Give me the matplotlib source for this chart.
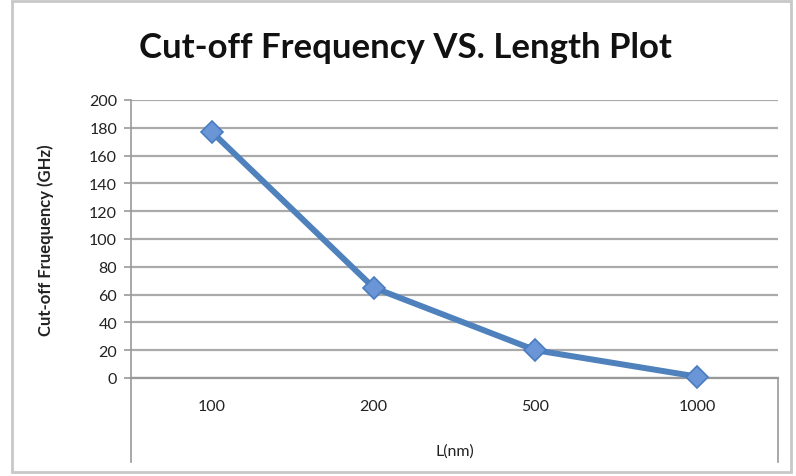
import matplotlib
matplotlib.use("Agg")
import matplotlib.pyplot as plt
from matplotlib.patches import Rectangle
from matplotlib.lines import Line2D

plt.rcParams["font.family"] = ["Lato", "DejaVu Sans"]

# cut-off frequency per device length
lengths = ["100", "200", "500", "1000"]
freq_ghz = [177, 65, 20, 1]
yticks = list(range(0, 201, 20))

W, H = 796, 477
fig = plt.figure(figsize=(W / 100, H / 100), dpi=100)

# light frame around the chart
fig.patches.append(Rectangle((12 / W, 4 / H), 779 / W, 471 / H, transform=fig.transFigure,
                             fill=False, edgecolor="#c8c8c8", lw=2))

ax = fig.add_axes([131 / W, 1 - 379 / H, (778 - 131) / W, (379 - 101) / H])
xs = list(range(len(lengths)))
ax.plot(xs, freq_ghz, color="#4F81BD", lw=4.3, marker="D", markersize=11,
        markerfacecolor="#6a96d8", markeredgecolor="#4a7cc0", markeredgewidth=1.2,
        zorder=3, clip_on=False)

ax.set_xlim(-0.5, len(lengths) - 0.5)
ax.set_ylim(0, 200)
ax.set_yticks(yticks)
ax.set_yticklabels([str(v) for v in yticks], fontsize=11.5, color="#222222")
ax.set_xticks(xs)
ax.set_xticklabels(lengths, fontsize=11.5, color="#222222")
ax.tick_params(axis="y", length=5, width=1.2, color="#999999", pad=5)
ax.tick_params(axis="x", length=0, pad=15)
ax.grid(axis="y", color="#aaaaaa", lw=1.6)
ax.set_axisbelow(True)
for s in ("top", "right"):
    ax.spines[s].set_visible(False)
ax.spines["left"].set_color("#999999")
ax.spines["bottom"].set_color("#999999")
ax.spines["left"].set_linewidth(1.2)
ax.spines["bottom"].set_linewidth(1.6)

# group divider lines under the category axis
for xa in (0.0, 1.0):
    ax.add_line(Line2D([xa, xa], [0, -0.302], transform=ax.transAxes,
                       color="#999999", lw=1.2, clip_on=False))

ax.text(0.5, -0.262, "L(nm)", transform=ax.transAxes, ha="center", va="center",
        fontsize=11.5, color="#222222")
fig.text(46 / W, 1 - 240 / H, "Cut-off Fruequency (GHz)", rotation=90, ha="center",
         va="center", fontsize=12, fontweight="bold", color="#222222")
fig.text(405 / W, 1 - 48 / H, "Cut-off Frequency VS. Length Plot", ha="center",
         va="center", fontsize=25, fontweight="bold", color="#111111")

fig.savefig("out.png", dpi=100, facecolor="white")
